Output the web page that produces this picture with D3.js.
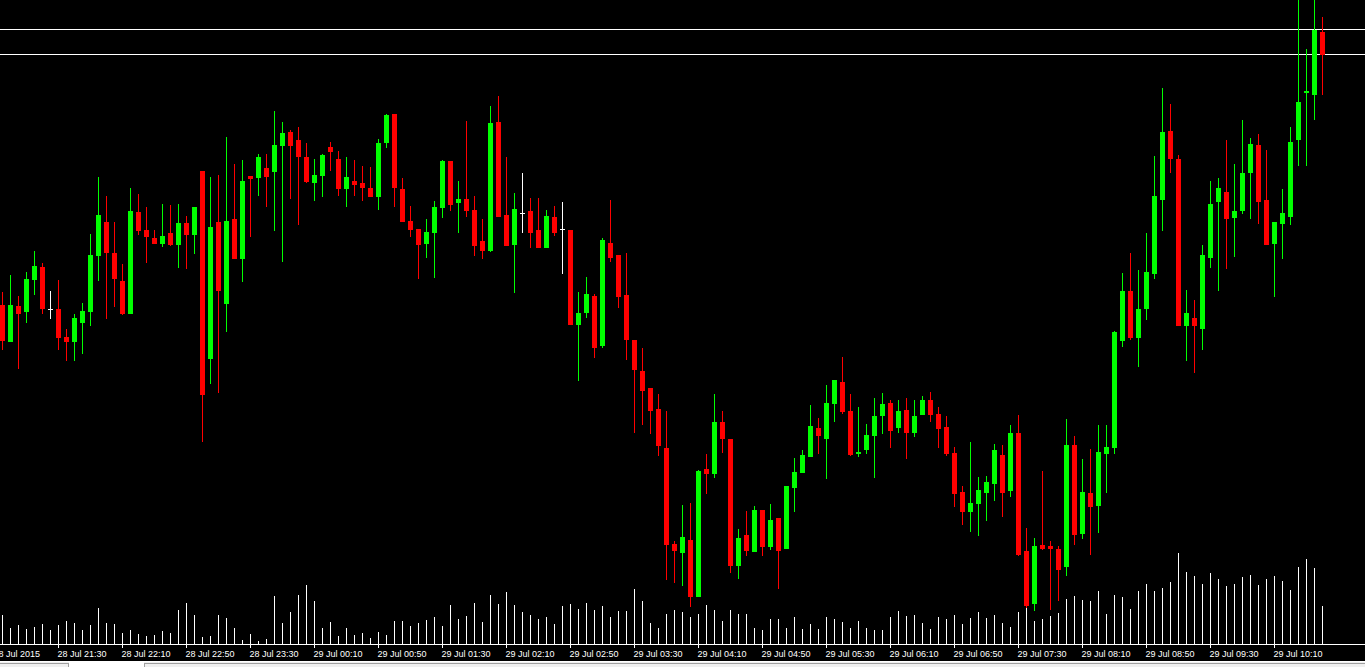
<!DOCTYPE html>
<html><head><meta charset="utf-8">
<script src="https://cdn.jsdelivr.net/npm/d3@7"></script>
<style>html,body{margin:0;padding:0;background:#000;overflow:hidden}svg{display:block}</style>
</head><body><svg id="c" width="1365" height="667"></svg>
<script>
const startTime = "2015-07-28 20:55";
const open = [
1.10695,1.10658,1.10694,1.10688,1.10720,1.10733,1.10691,1.10691,1.10663,1.10658,
1.10677,1.10688,1.10744,1.10778,1.10747,1.10719,1.10686,1.10788,1.10770,1.10762,
1.10756,1.10767,1.10755,1.10777,1.10765,1.10829,1.10641,1.10778,1.10696,1.10781,
1.10741,1.10824,1.10822,1.10832,1.10828,1.10854,1.10868,1.10860,1.10843,1.10817,
1.10824,1.10853,1.10841,1.10811,1.10819,1.10817,1.10812,1.10803,1.10857,1.10886,
1.10811,1.10779,1.10771,1.10756,1.10767,1.10792,1.10839,1.10797,1.10801,1.10790,
1.10759,1.10749,1.10878,1.10785,1.10755,1.10787,1.10789,1.10770,1.10752,1.10783,
1.10771,1.10770,1.10675,1.10687,1.10704,1.10654,1.10757,1.10745,1.10705,1.10660,
1.10629,1.10612,1.10591,1.10552,1.10456,1.10447,1.10460,1.10403,1.10531,1.10526,
1.10578,1.10561,1.10434,1.10465,1.10448,1.10490,1.10453,1.10482,1.10451,1.10512,
1.10527,1.10543,1.10572,1.10561,1.10596,1.10618,1.10589,1.10546,1.10550,1.10564,
1.10584,1.10597,1.10572,1.10590,1.10567,1.10585,1.10600,1.10586,1.10573,1.10547,
1.10508,1.10488,1.10496,1.10507,1.10516,1.10545,1.10509,1.10567,1.10449,1.10396,
1.10455,1.10454,1.10451,1.10433,1.10555,1.10466,1.10507,1.10494,1.10546,1.10552,
1.10659,1.10709,1.10662,1.10691,1.10726,1.10800,1.10869,1.10841,1.10674,1.10682,
1.10671,1.10742,1.10798,1.10808,1.10782,1.10789,1.10827,1.10855,1.10800,1.10756,
1.10776,1.10783,1.10860,1.10907,1.10905,1.10968];
const high = [
1.10708,1.10725,1.10704,1.10728,1.10749,1.10737,1.10709,1.10720,1.10671,1.10686,
1.10697,1.10766,1.10823,1.10804,1.10778,1.10736,1.10812,1.10806,1.10793,1.10770,
1.10796,1.10795,1.10796,1.10784,1.10793,1.10829,1.10823,1.10825,1.10863,1.10836,
1.10840,1.10824,1.10846,1.10846,1.10889,1.10878,1.10870,1.10873,1.10857,1.10841,
1.10846,1.10858,1.10849,1.10843,1.10840,1.10834,1.10833,1.10861,1.10886,1.10886,
1.10822,1.10794,1.10771,1.10781,1.10799,1.10840,1.10839,1.10819,1.10879,1.10804,
1.10781,1.10894,1.10904,1.10843,1.10807,1.10827,1.10802,1.10802,1.10790,1.10794,
1.10798,1.10770,1.10708,1.10723,1.10706,1.10762,1.10800,1.10745,1.10747,1.10660,
1.10652,1.10612,1.10606,1.10589,1.10459,1.10495,1.10497,1.10530,1.10546,1.10606,
1.10589,1.10561,1.10471,1.10489,1.10494,1.10490,1.10496,1.10482,1.10514,1.10542,
1.10550,1.10595,1.10582,1.10615,1.10620,1.10643,1.10606,1.10593,1.10576,1.10602,
1.10607,1.10600,1.10600,1.10602,1.10600,1.10604,1.10608,1.10593,1.10584,1.10553,
1.10514,1.10558,1.10523,1.10524,1.10556,1.10555,1.10575,1.10585,1.10472,1.10462,
1.10529,1.10459,1.10454,1.10581,1.10564,1.10541,1.10551,1.10575,1.10575,1.10669,
1.10727,1.10747,1.10730,1.10767,1.10844,1.10912,1.10896,1.10845,1.10710,1.10700,
1.10755,1.10819,1.10822,1.10860,1.10836,1.10880,1.10862,1.10866,1.10850,1.10778,
1.10811,1.10873,1.11000,1.10951,1.11000,1.10983];
const low = [
1.10650,1.10658,1.10631,1.10677,1.10705,1.10686,1.10681,1.10650,1.10639,1.10639,
1.10646,1.10674,1.10719,1.10681,1.10693,1.10685,1.10686,1.10765,1.10737,1.10756,
1.10753,1.10754,1.10732,1.10731,1.10746,1.10558,1.10616,1.10607,1.10668,1.10741,
1.10718,1.10763,1.10804,1.10793,1.10769,1.10738,1.10801,1.10775,1.10817,1.10799,
1.10803,1.10829,1.10804,1.10793,1.10804,1.10799,1.10803,1.10790,1.10852,1.10793,
1.10778,1.10763,1.10721,1.10742,1.10722,1.10782,1.10789,1.10767,1.10783,1.10744,
1.10741,1.10748,1.10783,1.10754,1.10707,1.10767,1.10752,1.10752,1.10752,1.10764,
1.10726,1.10675,1.10619,1.10682,1.10642,1.10652,1.10738,1.10692,1.10640,1.10567,
1.10575,1.10566,1.10544,1.10420,1.10417,1.10414,1.10393,1.10403,1.10506,1.10522,
1.10547,1.10427,1.10421,1.10444,1.10448,1.10444,1.10450,1.10411,1.10451,1.10488,
1.10527,1.10543,1.10546,1.10521,1.10578,1.10586,1.10544,1.10543,1.10546,1.10522,
1.10566,1.10552,1.10567,1.10541,1.10563,1.10585,1.10578,1.10552,1.10544,1.10493,
1.10475,1.10468,1.10464,1.10479,1.10499,1.10483,1.10503,1.10444,1.10392,1.10389,
1.10450,1.10390,1.10399,1.10424,1.10455,1.10461,1.10445,1.10467,1.10507,1.10546,
1.10653,1.10660,1.10633,1.10680,1.10721,1.10769,1.10827,1.10674,1.10639,1.10627,
1.10650,1.10732,1.10709,1.10731,1.10743,1.10786,1.10781,1.10776,1.10755,1.10703,
1.10741,1.10775,1.10834,1.10834,1.10880,1.10905];
const close = [
1.10659,1.10695,1.10686,1.10721,1.10734,1.10691,1.10691,1.10662,1.10658,1.10682,
1.10689,1.10745,1.10785,1.10747,1.10721,1.10686,1.10789,1.10769,1.10763,1.10756,
1.10764,1.10755,1.10777,1.10765,1.10793,1.10605,1.10773,1.10709,1.10779,1.10741,
1.10819,1.10821,1.10843,1.10823,1.10855,1.10867,1.10854,1.10843,1.10818,1.10825,
1.10845,1.10848,1.10811,1.10823,1.10815,1.10812,1.10803,1.10857,1.10885,1.10812,
1.10778,1.10770,1.10755,1.10768,1.10793,1.10839,1.10795,1.10801,1.10789,1.10754,
1.10749,1.10877,1.10783,1.10754,1.10791,1.10787,1.10767,1.10752,1.10784,1.10767,
1.10771,1.10675,1.10687,1.10706,1.10652,1.10760,1.10742,1.10703,1.10660,1.10630,
1.10609,1.10589,1.10554,1.10455,1.10449,1.10463,1.10403,1.10529,1.10526,1.10578,
1.10561,1.10434,1.10462,1.10449,1.10490,1.10453,1.10480,1.10449,1.10514,1.10528,
1.10545,1.10574,1.10564,1.10597,1.10620,1.10588,1.10545,1.10548,1.10565,1.10584,
1.10596,1.10569,1.10589,1.10567,1.10584,1.10600,1.10585,1.10571,1.10546,1.10506,
1.10488,1.10497,1.10510,1.10518,1.10550,1.10507,1.10567,1.10445,1.10394,1.10454,
1.10451,1.10451,1.10430,1.10555,1.10465,1.10508,1.10493,1.10548,1.10553,1.10668,
1.10709,1.10662,1.10691,1.10728,1.10804,1.10868,1.10841,1.10674,1.10687,1.10674,
1.10745,1.10796,1.10812,1.10781,1.10789,1.10827,1.10856,1.10798,1.10755,1.10778,
1.10787,1.10858,1.10898,1.10909,1.10970,1.10945];
const volume = [
29,16,19,15,17,20,14,19,23,21,
14,19,36,21,20,11,14,10,8,9,
13,11,34,41,29,7,8,29,26,16,
4,10,3,5,48,21,32,49,59,43,
16,22,8,16,9,11,6,12,9,23,
23,18,21,24,27,18,39,25,28,41,
22,49,40,52,39,32,29,25,27,20,
38,40,35,41,34,38,27,33,33,55,
43,21,16,30,34,32,27,30,39,34,
23,34,30,30,16,14,25,25,16,27,
15,20,15,27,25,22,16,23,16,14,
14,27,33,28,29,21,15,27,25,29,
20,26,32,26,29,21,17,32,37,23,
25,28,31,45,48,44,43,53,30,49,
47,35,53,60,53,56,62,91,72,68,
60,71,65,58,60,67,69,59,65,68,
63,54,77,85,76,38];
const levels = [1.10971, 1.10946];
const tickTimes = ["2015-07-28 20:50","2015-07-28 21:30","2015-07-28 22:10","2015-07-28 22:50","2015-07-28 23:30",
"2015-07-29 00:10","2015-07-29 00:50","2015-07-29 01:30","2015-07-29 02:10","2015-07-29 02:50","2015-07-29 03:30",
"2015-07-29 04:10","2015-07-29 04:50","2015-07-29 05:30","2015-07-29 06:10","2015-07-29 06:50","2015-07-29 07:30",
"2015-07-29 08:10","2015-07-29 08:50","2015-07-29 09:30","2015-07-29 10:10"];
const tickLabels = ["28 Jul 2015","28 Jul 21:30","28 Jul 22:10","28 Jul 22:50","28 Jul 23:30",
"29 Jul 00:10","29 Jul 00:50","29 Jul 01:30","29 Jul 02:10","29 Jul 02:50","29 Jul 03:30",
"29 Jul 04:10","29 Jul 04:50","29 Jul 05:30","29 Jul 06:10","29 Jul 06:50","29 Jul 07:30",
"29 Jul 08:10","29 Jul 08:50","29 Jul 09:30","29 Jul 10:10"];

const W = 1365, H = 667;
const parse = d3.timeParse("%Y-%m-%d %H:%M");
const t0 = parse(startTime);
const data = open.map((o, i) => ({t: d3.timeMinute.offset(t0, 5 * i), o, h: high[i], l: low[i], c: close[i], v: volume[i]}));
const x = d3.scaleTime().domain([data[0].t, data[data.length - 1].t]).range([2, 1322]);
const y = d3.scaleLinear().domain([1.11000, 1.10390]).range([0, 610]);
const vy = d3.scaleLinear().domain([0, 100]).range([644, 544]);
const R = v => Math.round(v);

const svg = d3.select("#c").attr("shape-rendering", "crispEdges");
svg.append("rect").attr("width", W).attr("height", H).attr("fill", "#000");

// level lines
svg.append("g").selectAll("rect").data(levels).join("rect")
  .attr("x", 0).attr("width", W).attr("y", d => R(y(d))).attr("height", 1).attr("fill", "#fff");

// volumes
svg.append("g").selectAll("rect").data(data).join("rect")
  .attr("x", d => R(x(d.t))).attr("width", 1)
  .attr("y", d => R(vy(d.v))).attr("height", d => 644 - R(vy(d.v)))
  .attr("fill", "#fff");

const col = d => d.c > d.o ? "#00ff00" : (d.c < d.o ? "#ff0000" : "#ffffff");
const g = svg.append("g");
// wicks
g.selectAll(".w").data(data).join("rect").attr("class", "w")
  .attr("x", d => R(x(d.t))).attr("width", 1)
  .attr("y", d => R(y(d.h))).attr("height", d => Math.max(1, R(y(d.l)) - R(y(d.h))))
  .attr("fill", col);
// bodies
g.selectAll(".b").data(data).join("rect").attr("class", "b")
  .attr("x", d => R(x(d.t)) - 2).attr("width", 5)
  .attr("y", d => R(y(Math.max(d.o, d.c))))
  .attr("height", d => Math.max(1, R(y(Math.min(d.o, d.c))) - R(y(Math.max(d.o, d.c)))))
  .attr("fill", col);

// time axis
const axisG = svg.append("g").attr("transform", "translate(0,644)");
axisG.append("rect").attr("x", 0).attr("y", 0).attr("width", W).attr("height", 1).attr("fill", "#fff");
const ax = d3.axisBottom(x).tickValues(tickTimes.map(parse))
  .tickFormat((d, i) => tickLabels[i]).tickSize(4).tickSizeOuter(0);
const axg = axisG.append("g").call(ax);
axg.select(".domain").remove();
axg.selectAll(".tick line").attr("stroke", "#fff");
axg.selectAll(".tick text").attr("fill", "#fff").attr("text-anchor", "start")
  .attr("x", -1).attr("y", 13).attr("dy", null)
  .style("font-family", "'Liberation Sans', Arial, sans-serif").style("font-size", "9px")
  .attr("shape-rendering", null);

// bottom tab strip
const bot = svg.append("g");
bot.append("rect").attr("x", 0).attr("y", 661).attr("width", W).attr("height", 6).attr("fill", "#f0f0f0");
bot.append("rect").attr("x", 0).attr("y", 661).attr("width", 69).attr("height", 1).attr("fill", "#ffffff");
bot.append("rect").attr("x", 0).attr("y", 663).attr("width", 69).attr("height", 1).attr("fill", "#a0a0a0");
bot.append("rect").attr("x", 68).attr("y", 663).attr("width", 1).attr("height", 4).attr("fill", "#a0a0a0");
bot.append("rect").attr("x", 69).attr("y", 661).attr("width", 75).attr("height", 6).attr("fill", "#ffffff");
bot.append("rect").attr("x", 144).attr("y", 661).attr("width", W - 144).attr("height", 1).attr("fill", "#ffffff");
bot.append("rect").attr("x", 144).attr("y", 663).attr("width", W - 144).attr("height", 1).attr("fill", "#a0a0a0");
bot.append("rect").attr("x", 144).attr("y", 663).attr("width", 1).attr("height", 4).attr("fill", "#a0a0a0");
</script></body></html>
